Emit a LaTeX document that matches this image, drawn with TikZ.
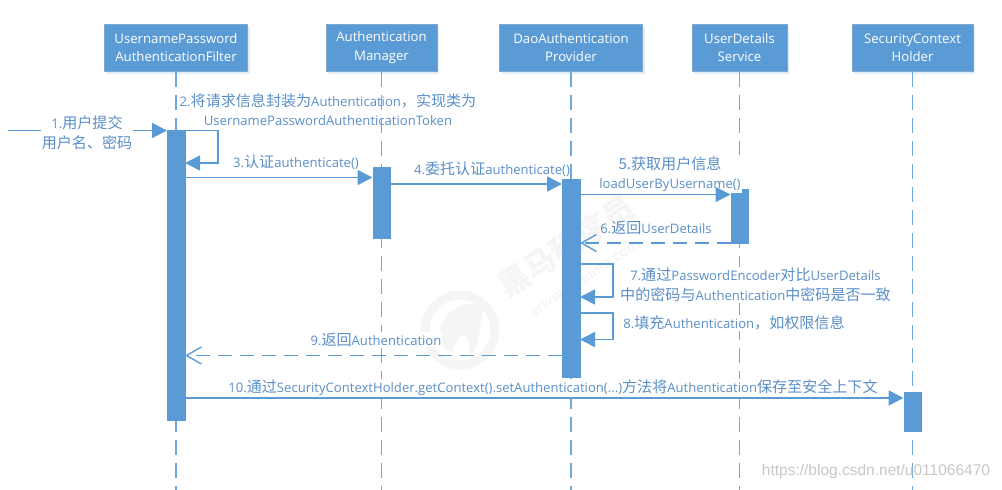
\documentclass[tikz,border=0pt]{standalone}
\usepackage{fontspec}
\setmainfont{Open Sans}
\newfontfamily\cjk[Scale=1.15]{Noto Sans CJK SC}
\newfontfamily\wmcjk{Noto Sans CJK SC}
\newfontfamily\wmfont{Liberation Sans}
\usetikzlibrary{arrows.meta,shadows}
\definecolor{mainblue}{HTML}{5B9BD5}
\definecolor{headedge}{HTML}{7FA8CF}
\definecolor{txtblue}{HTML}{5A8FC8}
\definecolor{lineblue}{HTML}{6FA8DC}
\definecolor{wmgray}{HTML}{F5F5F5}
\newcommand{\zh}[1]{{\cjk #1}}
\tikzset{
  x=1pt,y=-1pt,
  headbox/.style={draw=headedge,line width=1pt,fill=mainblue,text=white,align=center,
    inner sep=0pt,font=\fontsize{13.2}{18.3}\selectfont,
    drop shadow={shadow xshift=2pt,shadow yshift=-3pt,fill=mainblue,opacity=0.18}},
  lifeline/.style={draw=lineblue,line width=1.7pt,dash pattern=on 15pt off 8pt},
  activation/.style={draw=mainblue,fill=mainblue,line width=0.5pt,inner sep=0pt},
  msg/.style={draw=mainblue,line width=1.6pt,-{Triangle[length=15pt,width=15pt]}},
  ret/.style={draw=mainblue,line width=1.6pt,dash pattern=on 14pt off 8pt,-{Straight Barb[length=15pt,width=17pt,line width=1.4pt]}},
  lbl/.style={text=txtblue,align=center,inner sep=1pt,font=\fontsize{13.1}{19.5}\selectfont},
  wlbl/.style={lbl,fill=white},
}
\begin{document}
\begin{tikzpicture}
\useasboundingbox (0,0) rectangle (1002,490);
% watermark
\node[text=wmgray,rotate=33,font=\wmcjk\bfseries\fontsize{31}{31}\selectfont] (wm1) at (566,246) {黑马程序员};
\node[text=wmgray,rotate=33,font=\bfseries\fontsize{14}{14}\selectfont] (wm2) at (585,277) {www.itheima.com};
\draw[wmgray,line width=9pt] (460,330) circle (35pt);
\fill[wmgray] (440,335) .. controls (440,310) and (465,300) .. (484,305) .. controls (478,325) and (482,345) .. (470,355) .. controls (470,335) and (462,325) .. (452,352) .. controls (445,350) and (440,345) .. (440,335) -- cycle;
% heads
\node[headbox,minimum width=143pt,minimum height=47pt] (h1) at (176,47.5) {UsernamePassword\\AuthenticationFilter};
\node[headbox,minimum width=111pt,minimum height=47pt] (h2) at (381.5,47.5) {Authentication\\Manager};
\node[headbox,minimum width=143pt,minimum height=47pt] (h3) at (571,47.5) {DaoAuthentication\\Provider};
\node[headbox,minimum width=95pt,minimum height=47pt] (h4) at (739.5,47.5) {UserDetails\\Service};
\node[headbox,minimum width=121pt,minimum height=47pt] (h5) at (912.5,47.5) {SecurityContext\\Holder};
% lifelines
\coordinate (e1) at (176,490);
\coordinate (e2) at (381.5,490);
\coordinate (e3) at (571,490);
\coordinate (e4) at (739.5,490);
\coordinate (e5) at (912.5,490);
\foreach \i in {1,...,5}{\draw[lifeline] (h\i.south) -- (e\i);}
% activations
\node[activation,minimum width=17.5pt,minimum height=290pt] (b1) at (176,275) {};
\node[activation,minimum width=17.5pt,minimum height=71pt] (b2) at (381.5,203) {};
\node[activation,minimum width=17.5pt,minimum height=198pt] (b3) at (571,278) {};
\node[activation,minimum width=17.5pt,minimum height=54pt] (b4) at (739.5,216) {};
\node[activation,minimum width=17.5pt,minimum height=39pt] (b5) at (912.5,411.5) {};
% free end
\coordinate (start) at (8,130.5);
% labels hiding lifelines
\node[wlbl] (t5) at (670,174) {\zh{5.获取用户信息}\\loadUserByUsername()};
\node[wlbl] (t7) at (755.5,285) {7.\zh{通过}PasswordEncoder\zh{对比}UserDetails\\\zh{中的密码与}Authentication\zh{中密码是否一致}};
\node[wlbl] (t8) at (734,323) {8.\zh{填充}Authentication\zh{，如权限信息}};
\node[wlbl] (t9) at (376,339.5) {9.\zh{返回}Authentication};
\node[wlbl] (t10) at (553,388) {10.\zh{通过}SecurityContextHolder.getContext().setAuthentication(...)\zh{方法将}Authentication\zh{保存至安全上下文}};
% messages
\draw[msg] (start) -- (start -| b1.west);
\node[wlbl] (t1) at (87,133) {1.\zh{用户提交}\\\zh{用户名、密码}};
\draw[msg] (b1.east |- start) -| (218,163) -- (b1.east |- 0,163);
\draw[msg] (b1.east |- 0,177.5) -- (b2.west |- 0,177.5);
\draw[msg] (b2.east |- 0,184) -- (b3.west |- 0,184);
\draw[msg] (b3.east |- 0,194.5) -- (b4.west |- 0,194.5);
\draw[ret] (b4.west |- 0,243) -- (b3.east |- 0,243);
\draw[msg] (b3.east |- 0,264) -| (613,297) -- (b3.east |- 0,297);
\draw[msg] (b3.east |- 0,313) -| (613,339.5) -- (b3.east |- 0,339.5);
\draw[ret] (b3.west |- 0,355.5) -- (b1.east |- 0,355.5);
\draw[msg] (b1.east |- 0,398) -- (b5.west |- 0,398);
% plain labels
\node[lbl] (t2) at (328,109.5) {2.\zh{将请求信息封装为}Authentication\zh{，实现类为}\\UsernamePasswordAuthenticationToken};
\node[lbl] (t3) at (296,162.5) {3.\zh{认证}authenticate()};
\node[lbl] (t4) at (492,169.5) {4.\zh{委托认证}authenticate()};
\node[lbl] (t6) at (656,228) {6.\zh{返回}UserDetails};
\node[text=black!22,font=\wmfont\fontsize{15.5}{15.5}\selectfont,inner sep=0pt] (url) at (876,471) {https://blog.csdn.net/u011066470};
\end{tikzpicture}
\end{document}
